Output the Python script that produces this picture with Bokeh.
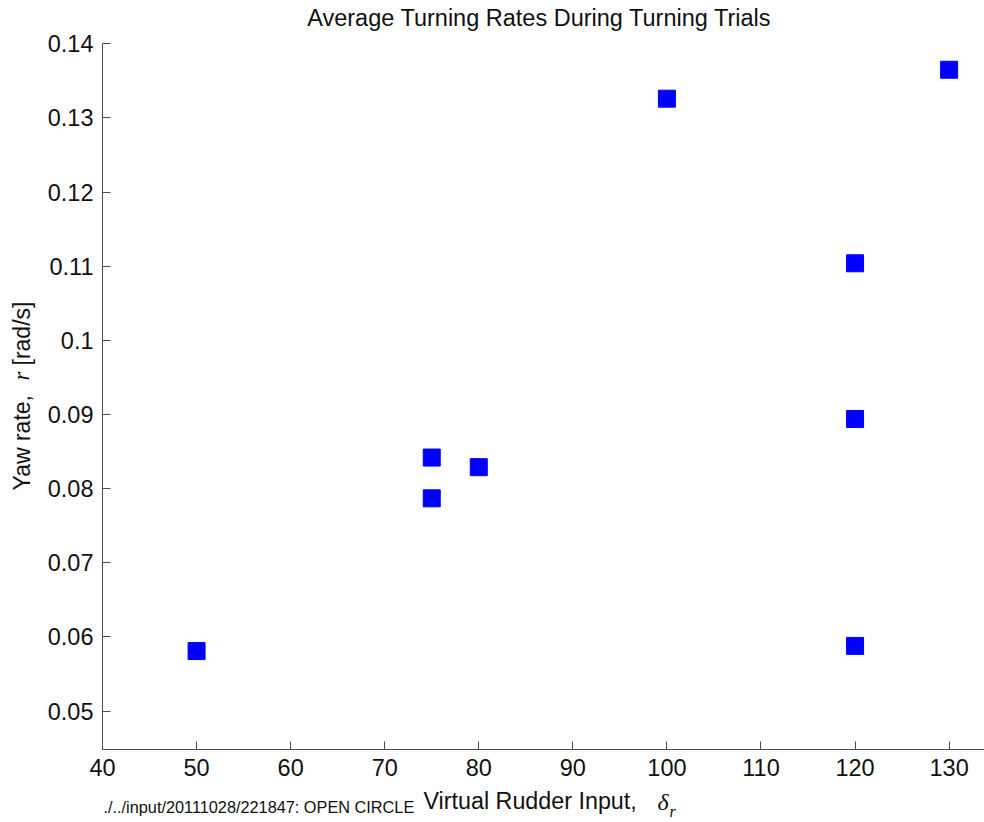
import math
from bokeh.plotting import figure
from bokeh.models import Range1d, FixedTicker, Label
from bokeh.embed import file_html
from bokeh.resources import INLINE

# ---- data ----
rudder_input = [50, 75, 75, 80, 100, 120, 120, 120, 130]
yaw_rate = [0.0581, 0.0842, 0.0787, 0.0829, 0.1326, 0.1104, 0.0894, 0.0588, 0.1365]

x_ticks = [40, 50, 60, 70, 80, 90, 100, 110, 120, 130]
x_tick_labels = ["40", "50", "60", "70", "80", "90", "100", "110", "120", "130"]
y_ticks = [0.05, 0.06, 0.07, 0.08, 0.09, 0.1, 0.11, 0.12, 0.13, 0.14]
y_tick_labels = ["0.05", "0.06", "0.07", "0.08", "0.09", "0.1", "0.11", "0.12", "0.13", "0.14"]

x_axis_span = (40, 133.76)     # drawn extent of the x axis
y_axis_span = (0.0448, 0.14)   # drawn extent of the y axis

title_text = "Average Turning Rates During Turning Trials"
source_note = "./../input/20111028/221847: OPEN CIRCLE"

FONT = "Liberation Sans"
MATH = "Liberation Serif"
TXT = "#111111"
AX = "#4d4d4d"

W, H = 984, 822
# plotting frame fills the canvas; the axes are pinned at the data box edges
p = figure(width=W, height=H, output_backend="svg", toolbar_location=None,
           x_range=Range1d(29.157, 133.76), y_range=Range1d(0.03498, 0.14584),
           min_border=0, min_border_left=0, min_border_right=0,
           min_border_top=0, min_border_bottom=0)

p.outline_line_color = None
p.xgrid.visible = False
p.ygrid.visible = False

for ax in (p.xaxis[0], p.yaxis[0]):
    ax.axis_line_color = AX
    ax.axis_line_width = 1
    ax.major_tick_line_color = AX
    ax.major_tick_in = 8
    ax.major_tick_out = 0
    ax.minor_tick_line_color = None
    ax.major_label_text_font = FONT
    ax.major_label_text_font_size = "23.5px"
    ax.major_label_text_color = TXT

xa, ya = p.xaxis[0], p.yaxis[0]
xa.fixed_location = y_axis_span[0]
xa.bounds = x_axis_span
xa.ticker = FixedTicker(ticks=x_ticks)
xa.major_label_overrides = {t: l for t, l in zip(x_ticks, x_tick_labels)}
xa.major_label_standoff = 9
ya.fixed_location = x_axis_span[0]
ya.bounds = y_axis_span
ya.ticker = FixedTicker(ticks=y_ticks)
ya.major_label_overrides = {t: l for t, l in zip(y_ticks, y_tick_labels)}
ya.major_label_standoff = 9

p.scatter(rudder_input, yaw_rate, marker="square", size=17,
          fill_color="#0000ff", line_color="#0000ff", line_width=1)


def lab(text, cx, cy, size, font=FONT, style="normal", angle=0.0, align="left"):
    """cx, cy: canvas pixels from the top-left corner (text anchor)."""
    p.add_layout(Label(x=cx, y=H - cy, x_units="screen", y_units="screen",
                       text=text, text_font=font, text_font_size=size,
                       text_font_style=style, text_color=TXT, angle=angle,
                       text_align=align, text_baseline="alphabetic"))


# title
lab(title_text, 539, 17.5, "23.5px", align="center")

# x-axis label pieces
lab(source_note, 103, 806, "16.3px")
lab("Virtual Rudder Input,", 423, 800.5, "23.3px")
lab("\u03b4", 657, 801, "24px", font=MATH, style="italic")
lab("r", 669, 811, "16px", font=MATH, style="italic")

# y-axis label pieces (rotated)
lab("Yaw rate,", 21, 490, "23px", angle=math.pi / 2)
lab("r", 21, 380, "23px", font=MATH, style="italic", angle=math.pi / 2)
lab("[rad/s]", 21, 365, "23px", angle=math.pi / 2)

open("out.html", "w").write(file_html(p, INLINE))
